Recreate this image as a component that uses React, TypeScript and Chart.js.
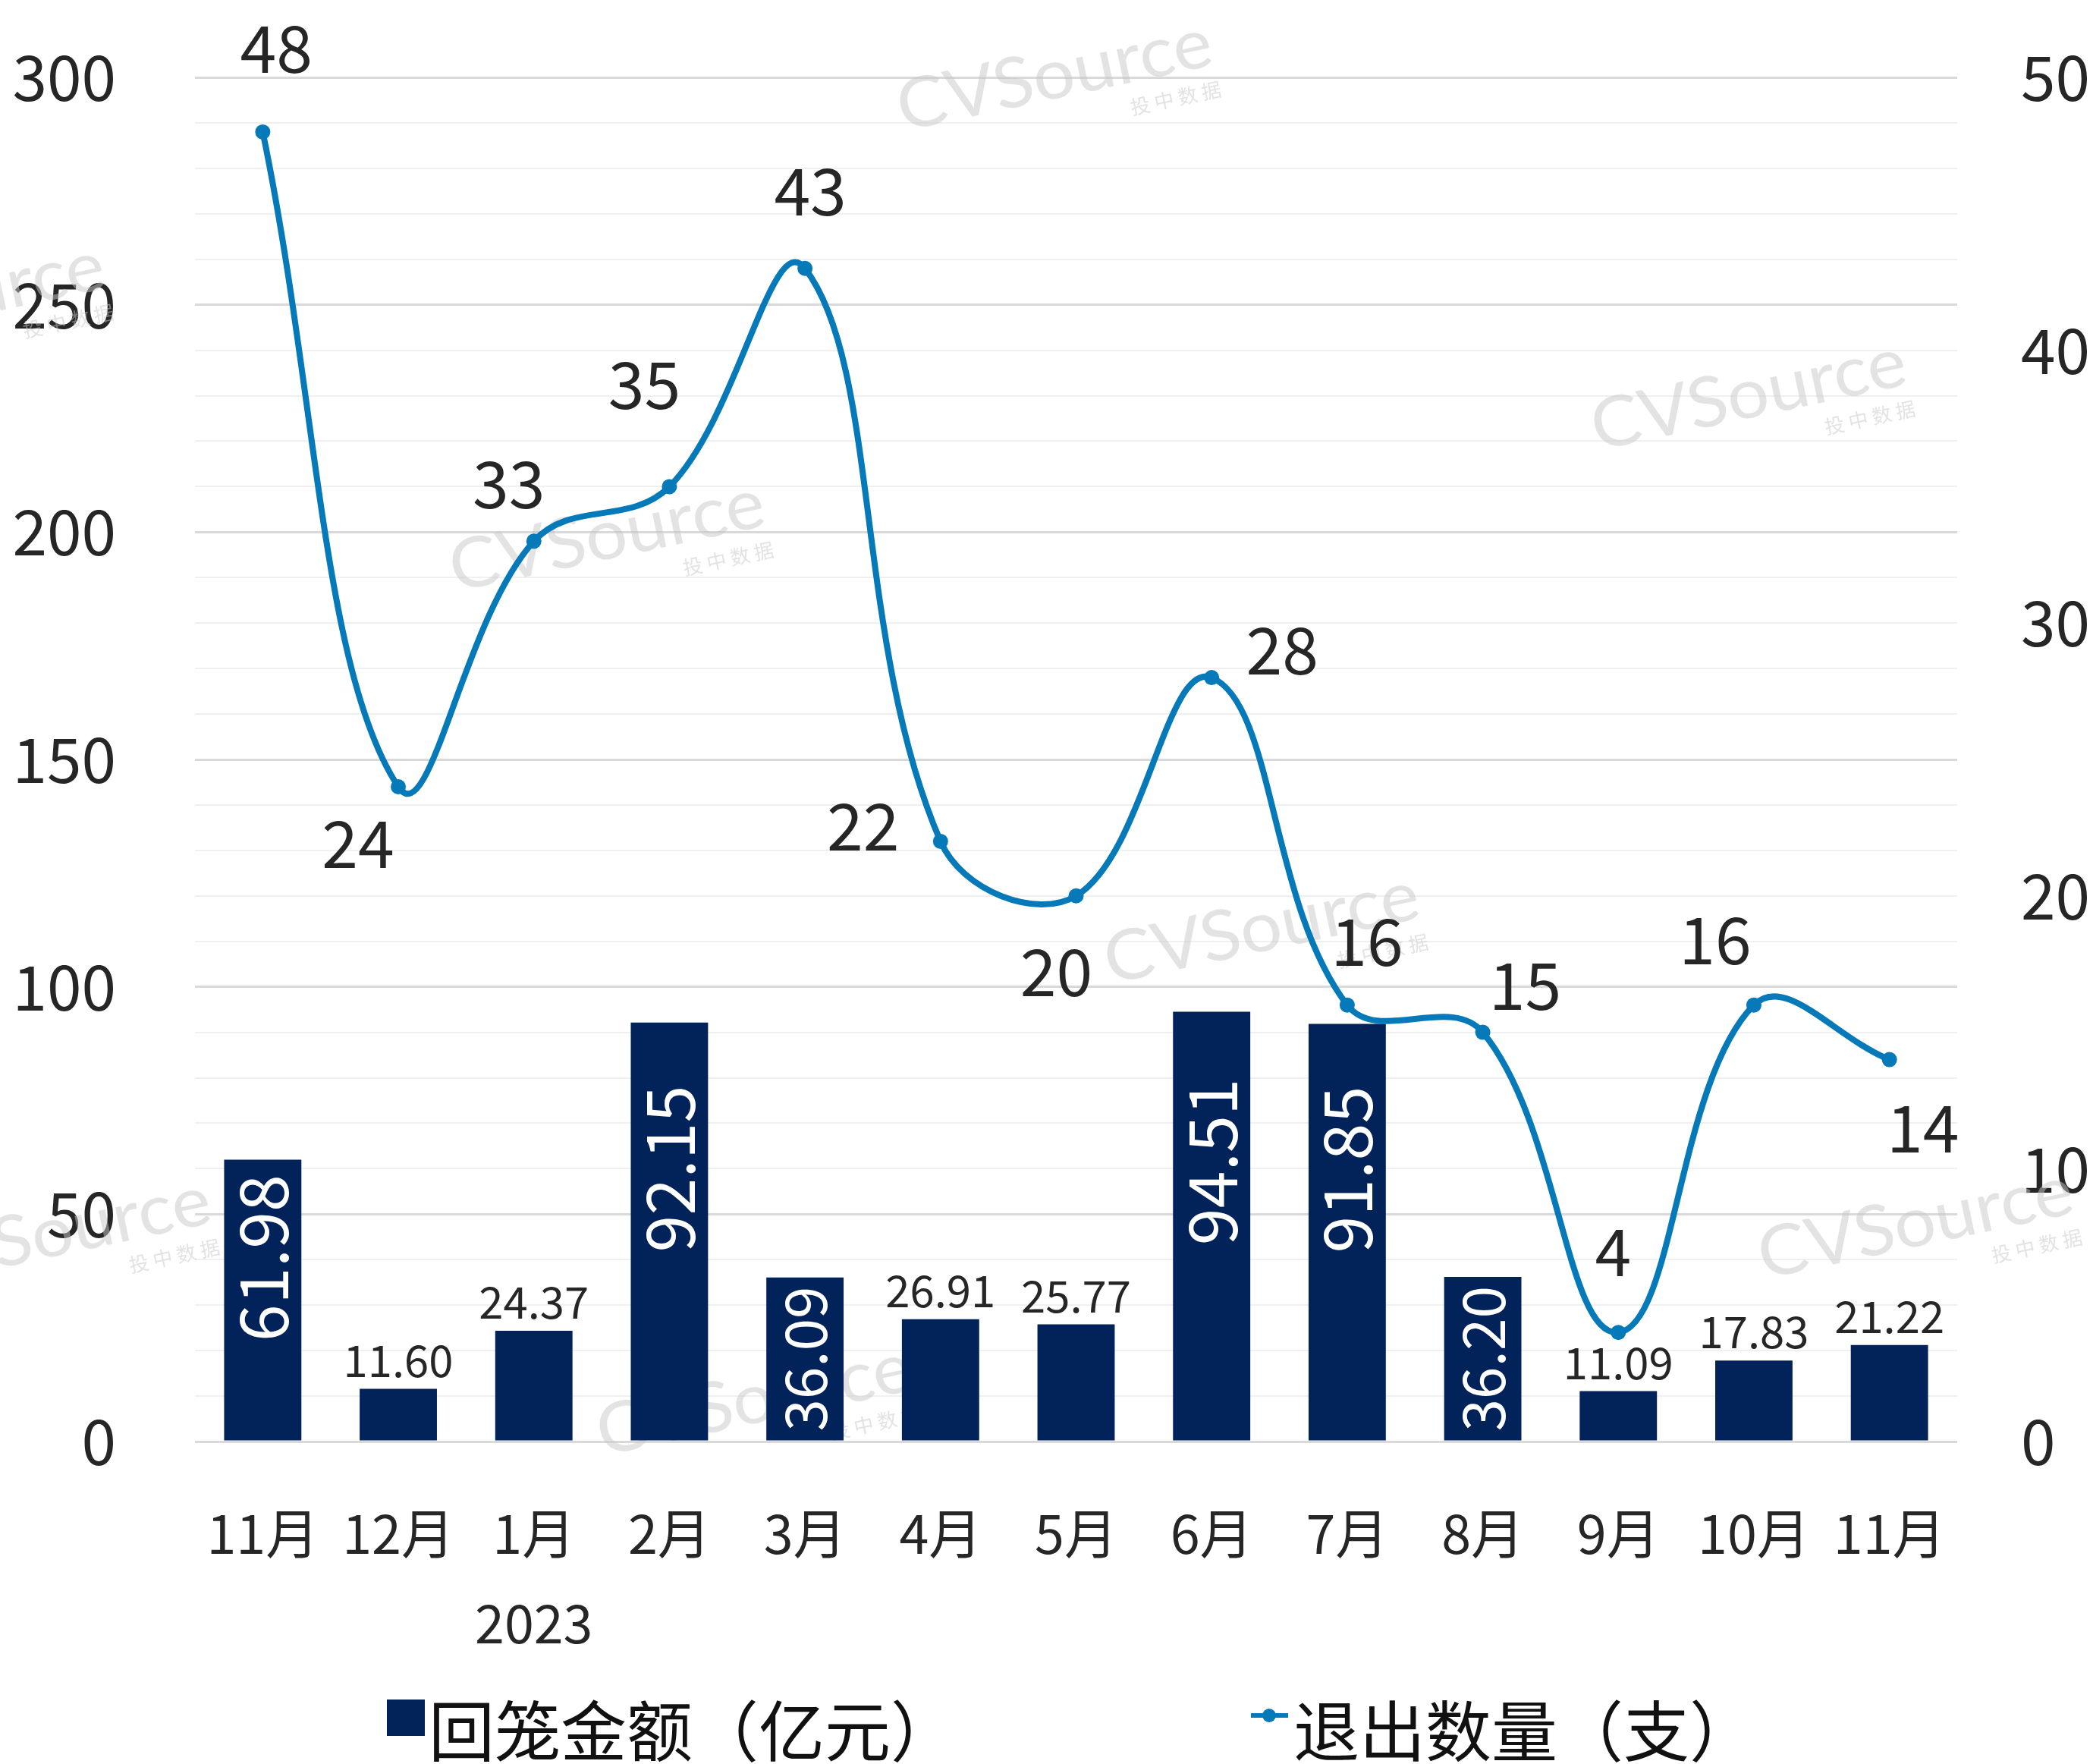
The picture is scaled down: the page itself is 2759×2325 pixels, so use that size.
import React, { useEffect, useRef } from 'react';
import { Chart, registerables } from 'chart.js';

Chart.register(...registerables);

// ---------- data ----------
const categories = ['11月', '12月', '1月', '2月', '3月', '4月', '5月', '6月', '7月', '8月', '9月', '10月', '11月'];
const yearLabels = ['', '', '2023', '', '', '', '', '', '', '', '', '', ''];
const amountValues = [61.98, 11.6, 24.37, 92.15, 36.09, 26.91, 25.77, 94.51, 91.85, 36.2, 11.09, 17.83, 21.22];
const exitCounts = [48, 24, 33, 35, 43, 22, 20, 28, 16, 15, 4, 16, 14];
const leftAxisMax = 300;
const leftAxisLabelStep = 50;
const rightAxisMax = 50;
const rightAxisStep = 10;
const seriesNames = ['回笼金额（亿元）', '退出数量（支）'];
const watermarkMain = 'CVSource';
const watermarkSub = '投 中 数 据';

// ---------- styling / layout ----------
const FONT = "'Noto Sans CJK SC', 'Noto Sans', sans-serif";
const BAR_COLOR = '#02235a';
const LINE_COLOR = '#0679b9';
const TEXT_COLOR = '#262626';
// label offsets (px) for line value labels, relative to each point
const lineLabelOffsets: [number, number][] = [
  [18, -111], [-53, 74], [-33, -76], [-33, -135], [7, -102], [-102, -21], [-26, 100],
  [93, -37], [26, -84], [56, -62], [-7, -107], [-51, -86], [44, 90],
];
const watermarkSpots: [number, number][] = [
  [1390, 100], [800, 707], [2305, 521], [1663, 1224], [70, 1626], [2525, 1613], [-70, 394], [994, 1846],
];

const watermarkPlugin = {
  id: 'watermark',
  beforeDatasetsDraw(chart: any) {
    const ctx = chart.ctx;
    ctx.save();
    for (const [x, y] of watermarkSpots) {
      ctx.save();
      ctx.translate(x, y);
      ctx.rotate(-0.21);
      ctx.fillStyle = 'rgba(200,200,200,0.5)';
      ctx.font = `400 92px Lato`;
      ctx.textAlign = 'center';
      ctx.textBaseline = 'middle';
      const w = ctx.measureText(watermarkMain).width;
      ctx.save();
      ctx.scale(422 / w, 1);
      ctx.fillText(watermarkMain, 0, 0);
      ctx.restore();
      ctx.font = `26px ${FONT}`;
      ctx.textAlign = 'right';
      ctx.fillText(watermarkSub, 211, 62);
      ctx.restore();
    }
    ctx.restore();
  },
};

const valueLabelPlugin = {
  id: 'valueLabels',
  afterDatasetsDraw(chart: any) {
    const ctx = chart.ctx;
    ctx.save();
    const barMeta = chart.getDatasetMeta(0);
    barMeta.data.forEach((bar: any, i: number) => {
      const v = amountValues[i];
      const text = v.toFixed(2);
      const { x, y, base } = bar.getProps(['x', 'y', 'base'], true);
      const h = base - y;
      if (v > 30) {
        let size = 88;
        ctx.font = `${size}px ${FONT}`;
        let w = ctx.measureText(text).width;
        if (w > h - 24) {
          size = size * (h - 24) / w;
          ctx.font = `${size}px ${FONT}`;
          w = ctx.measureText(text).width;
        }
        let cy = y + 0.35 * h;
        cy = Math.min(cy, base - 10 - w / 2);
        cy = Math.max(cy, y + 12 + w / 2);
        ctx.save();
        ctx.translate(x, cy);
        ctx.rotate(-Math.PI / 2);
        ctx.fillStyle = '#ffffff';
        ctx.textAlign = 'center';
        ctx.textBaseline = 'middle';
        ctx.fillText(text, 0, 0);
        ctx.restore();
      } else {
        ctx.font = `58px ${FONT}`;
        ctx.fillStyle = TEXT_COLOR;
        ctx.textAlign = 'center';
        ctx.textBaseline = 'middle';
        ctx.fillText(text, x, y - 38);
      }
    });
    const lineMeta = chart.getDatasetMeta(1);
    ctx.font = `86px ${FONT}`;
    ctx.fillStyle = TEXT_COLOR;
    ctx.textAlign = 'center';
    ctx.textBaseline = 'middle';
    lineMeta.data.forEach((pt: any, i: number) => {
      const { x, y } = pt.getProps(['x', 'y'], true);
      const [dx, dy] = lineLabelOffsets[i];
      ctx.fillText(String(exitCounts[i]), x + dx, y + dy);
    });
    ctx.restore();
  },
};

const legendPlugin = {
  id: 'customLegend',
  afterDraw(chart: any) {
    const ctx = chart.ctx;
    ctx.save();
    ctx.fillStyle = BAR_COLOR;
    ctx.fillRect(510, 2240, 50, 48);
    ctx.font = `87px ${FONT}`;
    ctx.fillStyle = '#111111';
    ctx.textAlign = 'left';
    ctx.textBaseline = 'middle';
    ctx.fillText(seriesNames[0], 565, 2282);
    ctx.strokeStyle = LINE_COLOR;
    ctx.lineWidth = 6;
    ctx.beginPath();
    ctx.moveTo(1649, 2261);
    ctx.lineTo(1698, 2261);
    ctx.stroke();
    ctx.fillStyle = LINE_COLOR;
    ctx.beginPath();
    ctx.arc(1673, 2261, 9, 0, Math.PI * 2);
    ctx.fill();
    ctx.fillStyle = '#111111';
    ctx.fillText(seriesNames[1], 1705, 2282);
    ctx.restore();
  },
};

function fixVerticalAxis(width: number) {
  return (scale: any) => {
    scale.width = width;
    scale.paddingTop = 0;
    scale.paddingBottom = 0;
  };
}

export default function App() {
  const canvasRef = useRef<HTMLCanvasElement | null>(null);

  useEffect(() => {
    document.body.style.margin = '0';
    const canvas = canvasRef.current;
    if (!canvas) return;
    const labels = categories.map((c, i) => (yearLabels[i] ? [c, yearLabels[i]] : c));
    const chart = new Chart(canvas, {
      type: 'bar',
      data: {
        labels,
        datasets: [
          {
            type: 'bar',
            label: seriesNames[0],
            data: amountValues,
            backgroundColor: BAR_COLOR,
            yAxisID: 'y',
            barPercentage: 0.57,
            categoryPercentage: 1,
            order: 2,
          },
          {
            type: 'line',
            label: seriesNames[1],
            data: exitCounts,
            borderColor: LINE_COLOR,
            backgroundColor: LINE_COLOR,
            borderWidth: 8,
            pointRadius: 10,
            pointBorderWidth: 0,
            pointBackgroundColor: LINE_COLOR,
            tension: 0.4,
            yAxisID: 'y1',
            order: 1,
          } as any,
        ],
      },
      options: {
        responsive: false,
        animation: false,
        devicePixelRatio: 1,
        layout: { padding: { top: 102, left: 0, right: 0, bottom: 0 } },
        plugins: { legend: { display: false }, tooltip: { enabled: false } },
        scales: {
          x: {
            offset: true,
            grid: { display: false, drawTicks: false },
            border: { display: false },
            ticks: {
              color: TEXT_COLOR,
              font: { family: FONT, size: 70, lineHeight: 1.69 },
              padding: 62,
              maxRotation: 0,
              autoSkip: false,
            },
            afterFit(scale: any) { scale.height = 425; },
          },
          y: {
            position: 'left',
            min: 0,
            max: leftAxisMax,
            grid: {
              color: (c: any) => (c.tick.value % leftAxisLabelStep === 0 ? '#d9d9d9' : '#f0f0f0'),
              lineWidth: (c: any) => (c.tick.value % leftAxisLabelStep === 0 ? 3 : 2),
              drawTicks: false,
            },
            border: { display: false },
            ticks: {
              stepSize: 10,
              autoSkip: false,
              padding: 104,
              color: TEXT_COLOR,
              font: { family: FONT, size: 82 },
              callback: (v: any) => (Number(v) % leftAxisLabelStep === 0 ? String(v) : ''),
            },
            afterFit: fixVerticalAxis(257),
          },
          y1: {
            position: 'right',
            min: 0,
            max: rightAxisMax,
            grid: { display: false, drawTicks: false },
            border: { display: false },
            ticks: {
              stepSize: rightAxisStep,
              padding: 84,
              color: TEXT_COLOR,
              font: { family: FONT, size: 82 },
            },
            afterFit: fixVerticalAxis(179),
          },
        },
      },
      plugins: [watermarkPlugin, valueLabelPlugin, legendPlugin],
    });
    return () => chart.destroy();
  }, []);

  return (
    <canvas
      ref={canvasRef}
      width={2759}
      height={2325}
      style={{ display: 'block', width: 2759, height: 2325 }}
    />
  );
}
